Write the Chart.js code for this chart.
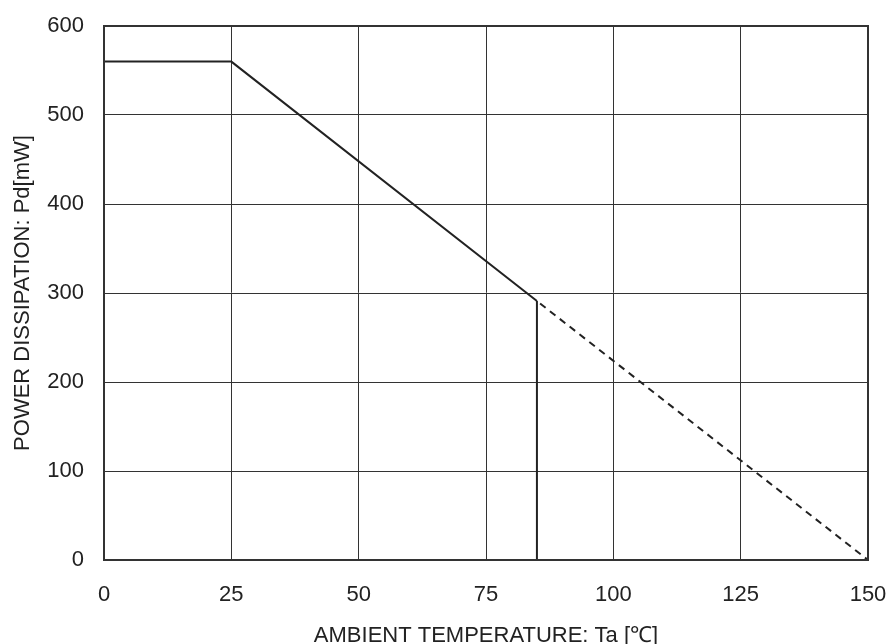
<!DOCTYPE html>
<html>
<head>
<meta charset="utf-8">
<script src="https://cdn.jsdelivr.net/npm/chart.js@4"></script>
<style>
    html, body { margin: 0; padding: 0; background: #fff; }
    #wrap { width: 891px; height: 644px; position: relative; }
</style>
</head>
<body>
<div id="wrap"><canvas id="chart"></canvas></div>
<script>
// Pd derating curve
const flatTemp = [0, 25, 85]
const flatPower = [560, 560, 291]
const derateTemp = [85, 150]
const deratePower = [291, 0]
const limitTemp = [85, 85]
const limitPower = [0, 291]

const xTicks = [0, 25, 50, 75, 100, 125, 150]
const yTicks = [0, 100, 200, 300, 400, 500, 600]

const ink = '#222'
const gridInk = '#333'
const fontFamily = 'Liberation Sans, Arial, sans-serif'

const toPoints = (xs, ys) => xs.map((x, i) => ({x, y: ys[i]}))

const ctx = document.getElementById('chart').getContext('2d');
new Chart(ctx, {
    type: 'line',
    data: {
        datasets: [
            {
                data: toPoints(flatTemp, flatPower),
                borderColor: ink,
                borderWidth: 2,
                pointRadius: 0,
                tension: 0
            },
            {
                data: toPoints(derateTemp, deratePower),
                borderColor: ink,
                borderWidth: 2,
                borderDash: [7, 5.5],
                borderDashOffset: -4,
                pointRadius: 0,
                tension: 0
            },
            {
                data: toPoints(limitTemp, limitPower),
                borderColor: ink,
                borderWidth: 2,
                pointRadius: 0,
                tension: 0
            }
        ]
    },
    options: {
        responsive: true,
        maintainAspectRatio: false,
        animation: false,
        events: [],
        layout: {
            padding: {top: 26, right: 23, left: 0, bottom: 0}
        },
        plugins: {
            legend: {display: false},
            tooltip: {enabled: false}
        },
        scales: {
            x: {
                type: 'linear',
                min: 0,
                max: 150,
                afterBuildTicks: (scale) => {
                    scale.ticks = xTicks.map(v => ({value: v}))
                },
                afterFit: (scale) => {
                    scale.height = 84
                    scale.paddingLeft = 0
                    scale.paddingRight = 0
                },
                ticks: {
                    color: ink,
                    padding: 22,
                    maxRotation: 0,
                    font: {family: fontFamily, size: 22}
                },
                grid: {
                    color: gridInk,
                    lineWidth: 1,
                    drawTicks: false
                },
                border: {color: gridInk, width: 2},
                title: {
                    display: true,
                    text: 'AMBIENT TEMPERATURE: Ta [℃]',
                    color: ink,
                    font: {family: fontFamily, size: 22},
                    padding: {top: 0, bottom: -5}
                }
            },
            y: {
                type: 'linear',
                min: 0,
                max: 600,
                afterBuildTicks: (scale) => {
                    scale.ticks = yTicks.map(v => ({value: v}))
                },
                afterFit: (scale) => {
                    scale.width = 104
                    scale.paddingTop = 0
                    scale.paddingBottom = 0
                },
                ticks: {
                    color: ink,
                    padding: 20,
                    font: {family: fontFamily, size: 22}
                },
                grid: {
                    color: gridInk,
                    lineWidth: 1,
                    drawTicks: false
                },
                border: {color: gridInk, width: 2},
                title: {
                    display: true,
                    text: 'POWER DISSIPATION: Pd[mW]',
                    color: ink,
                    font: {family: fontFamily, size: 22},
                    padding: {top: 10, bottom: 0}
                }
            }
        }
    },
    plugins: [{
        // close the box on the top and right edges
        id: 'frame',
        afterDraw(chart) {
            const {ctx, chartArea: a} = chart
            ctx.save()
            ctx.strokeStyle = gridInk
            ctx.lineWidth = 2
            ctx.strokeRect(a.left, a.top, a.right - a.left, a.bottom - a.top)
            ctx.restore()
        }
    }]
});
</script>
</body>
</html>
